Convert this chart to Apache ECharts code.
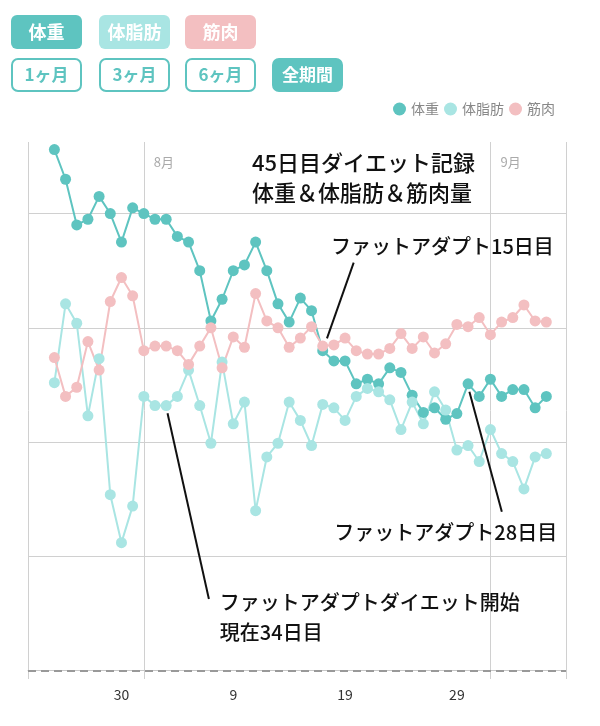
<!DOCTYPE html>
<html><head><meta charset="utf-8">
<script src="https://cdn.jsdelivr.net/npm/echarts@6/dist/echarts.min.js"></script>
<style>html,body{margin:0;padding:0;background:#fff}#c{width:600px;height:726px}</style>
</head><body><div id="c"></div>
<script>
// ---- data (chart units; y axis has no labels in the original) ----
const dates = ['07-24','07-25','07-26','07-27','07-28','07-29','07-30','07-31',
  '08-01','08-02','08-03','08-04','08-05','08-06','08-07','08-08','08-09','08-10',
  '08-11','08-12','08-13','08-14','08-15','08-16','08-17','08-18','08-19','08-20',
  '08-21','08-22','08-23','08-24','08-25','08-26','08-27','08-28','08-29','08-30','08-31',
  '09-01','09-02','09-03','09-04','09-05','09-06'];
const weight = [45.6,43.0,39.0,39.5,41.5,40.0,37.5,40.5,
  40.0,39.5,39.5,38.0,37.5,35.0,30.6,32.5,35.0,35.5,
  37.5,35.0,32.1,30.5,32.6,31.5,28.0,27.1,27.1,25.1,
  25.5,25.1,26.5,26.1,24.1,22.6,23.0,22.0,22.5,25.1,24.0,
  25.5,24.0,24.6,24.6,23.0,24.0];
const bodyFat = [25.2,32.1,30.4,22.3,27.3,15.4,11.2,14.4,
  24.0,23.2,23.2,24.0,26.3,23.2,19.9,27.0,21.6,23.5,
  14.0,18.7,19.9,23.5,21.9,19.7,23.3,23.0,21.9,24.0,
  24.7,24.4,23.7,21.1,23.5,21.6,24.4,22.8,19.3,19.7,18.3,
  21.1,19.0,18.3,15.9,18.7,19.0];
const muscle = [27.4,24.0,24.8,28.8,26.3,32.3,34.4,32.8,
  28.0,28.4,28.4,28.0,26.8,28.4,30.0,26.5,29.2,28.3,
  33.0,30.6,30.0,28.3,29.1,30.1,28.4,28.5,29.1,28.0,
  27.7,27.7,28.2,29.5,28.2,29.2,27.8,28.6,30.3,30.1,30.9,
  29.4,30.5,30.9,32.0,30.6,30.5];
const seriesNames = ['体重','体脂肪','筋肉'];
const xTickDates = ['07-30','08-09','08-19','08-29'];
const xTickLabels = ['30','9','19','29'];
const monthDates = ['08-01','09-01'];
const monthLabels = ['8月','9月'];
const yGridValues = [0,10,20,30,40];
const baselineValue = 0;
const titleText = '45日目ダイエット記録\n体重＆体脂肪＆筋肉量';
const topButtons = ['体重','体脂肪','筋肉'];
const rangeButtons = ['1ヶ月','3ヶ月','6ヶ月','全期間'];
// annotations (x = days from Aug 1, y = chart units)
const annotations = [
  {text:'ファットアダプト15日目', at:[16.74,37.16], from:[18.77,35.70], to:[16.38,29.08]},
  {text:'ファットアダプト28日目', at:[17.04,12.07], from:[29.12,24.41], to:[32.02,13.91]},
  {text:'ファットアダプトダイエット開始\n現在34日目', at:[6.80,4.70], from:[2.12,22.52], to:[5.82,6.27]}
];

// ---- helpers ----
const YEAR = 2023;
function dayOf(md){ const [m,d] = md.split('-').map(Number);
  return (Date.UTC(YEAR,m-1,d) - Date.UTC(YEAR,7,1)) / 86400000; }
const X_MIN = -10.36, X_MAX = 37.76;
const Y_MIN = -0.73, Y_MAX = 46.26;
const TEAL = '#5ec4c0', CYAN = '#a9e5e3', PINK = '#f3bfc1';
const colors = [TEAL, CYAN, PINK];
const FONT = '"Noto Sans CJK JP", "Noto Sans", sans-serif';

const tickDays = xTickDates.map(dayOf);
const monthDays = monthDates.map(dayOf);

function mkSeries(name, vals, color){
  return {
    name, type:'line', data: dates.map((d,i)=>[dayOf(d), vals[i]]),
    symbol:'circle', symbolSize:11, showSymbol:true,
    itemStyle:{color}, lineStyle:{color, width:2},
    emphasis:{disabled:true}, animation:false
  };
}

const graphics = [];
const btnX = [11, 99, 185, 272], btnW = 71;
topButtons.forEach((t,i)=>{
  graphics.push({type:'rect', left:btnX[i], top:15, shape:{width:btnW, height:34, r:6},
    style:{fill: colors[i]}});
  graphics.push({type:'text', x:btnX[i]+btnW/2, y:32,
    style:{text:t, fill:'#fff', font:'bold 18px '+FONT, align:'center', verticalAlign:'middle'}});
});
rangeButtons.forEach((t,i)=>{
  const filled = i === 3;
  graphics.push({type:'rect', x:btnX[i]+1, y:59, shape:{x:0,y:0,width:btnW-2, height:32, r:6},
    style:{fill: filled ? TEAL : '#fff', stroke: TEAL, lineWidth: 2}});
  graphics.push({type:'text', x:btnX[i]+btnW/2, y:75,
    style:{text:t, fill: filled ? '#fff' : TEAL, font:'bold 17px '+FONT, align:'center', verticalAlign:'middle'}});
});

const chart = echarts.init(document.getElementById('c'), null, {renderer:'canvas'});
chart.setOption({
  animation:false,
  color: colors,
  textStyle:{fontFamily: FONT},
  title:{text:titleText, left:247, top:143,
    textStyle:{fontSize:22, lineHeight:30, color:'#111', fontWeight:500, fontFamily:FONT}},
  legend:{data:seriesNames, right:40, top:97, icon:'circle', itemWidth:13, itemHeight:13, itemGap:5,
    textStyle:{color:'#888', fontSize:14, fontFamily:FONT}},
  grid:{left:28, right:34, top:142, bottom:47, containLabel:false},
  xAxis:[{
    type:'value', min:X_MIN, max:X_MAX, position:'bottom',
    axisLine:{show:true, lineStyle:{color:'#c8c8c8', width:1}},
    axisTick:{show:false, customValues:[X_MIN].concat(monthDays, [X_MAX])},
    axisLabel:{show:true, customValues:tickDays, margin:9, color:'#333', fontSize:14,
      formatter:(v)=>{ const k = tickDays.indexOf(v); return k>=0 ? xTickLabels[k] : ''; }},
    splitLine:{show:true, lineStyle:{color:'#d0d0d0', width:1}}
  },{
    type:'value', min:X_MIN, max:X_MAX, position:'top',
    axisLine:{show:false}, axisTick:{show:false}, splitLine:{show:false},
    axisLabel:{show:true, inside:true, customValues:monthDays, margin:14, align:'left',
      padding:[0,0,0,10], color:'#aaa', fontSize:13,
      formatter:(v)=>{ const k = monthDays.indexOf(v); return k>=0 ? monthLabels[k] : ''; }}
  }],
  yAxis:{type:'value', min:Y_MIN, max:Y_MAX,
    axisLine:{show:false}, axisLabel:{show:false},
    axisTick:{show:false, customValues:yGridValues},
    splitLine:{show:true, lineStyle:{color:'#d0d0d0', width:1}}},
  graphic: graphics,
  series:[
    mkSeries(seriesNames[0], weight, TEAL),
    mkSeries(seriesNames[1], bodyFat, CYAN),
    mkSeries(seriesNames[2], muscle, PINK),
    {type:'line', name:'annotations', data:[], silent:true, animation:false,
      markLine:{silent:true, symbol:['none','none'], animation:false,
        label:{show:false},
        lineStyle:{color:'#999', width:2, type:[8,5]},
        data:[{yAxis:baselineValue}].concat(annotations.map(a=>[
          {coord:a.from, lineStyle:{color:'#111', width:2, type:'solid'}},
          {coord:a.to}]))},
      markPoint:{silent:true, symbol:'circle', symbolSize:0, animation:false,
        label:{show:true, position:'right', distance:0, color:'#111', fontSize:20, lineHeight:30,
          fontWeight:500, fontFamily:FONT, formatter:(p)=>p.name},
        data:annotations.map(a=>({name:a.text, coord:a.at}))}
    }
  ]
});
</script></body></html>
